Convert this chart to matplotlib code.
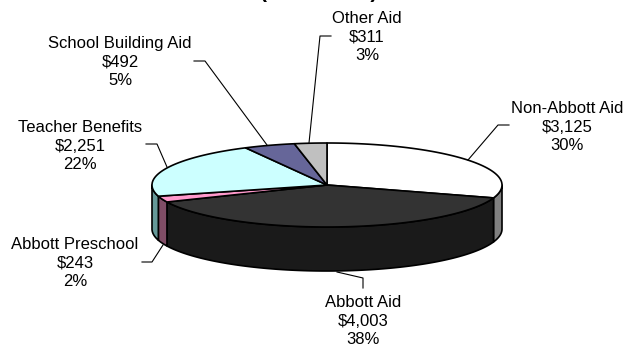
import numpy as np
import matplotlib
matplotlib.use('Agg')
import matplotlib.pyplot as plt
from matplotlib.patches import Polygon

plt.rcParams['font.family'] = ['Liberation Sans', 'DejaVu Sans']

labels = ['Non-Abbott Aid', 'Abbott Aid', 'Abbott Preschool', 'Teacher Benefits', 'School Building Aid', 'Other Aid']
values = [3125, 4003, 243, 2251, 492, 311]
percents = ['30%', '38%', '2%', '22%', '5%', '3%']
top_colors = ['#ffffff', '#333333', '#ff99cc', '#ccffff', '#666699', '#c0c0c0']
side_colors = ['#808080', '#1a1a1a', '#804d66', '#669999', '#333366', '#606060']

cx, cy = 327, 185
rx, ry = 175, 42
depth = 44


def rim(a, b):
    t = np.radians(np.linspace(a, b, max(int(abs(b - a)) * 2, 2)))
    return cx + rx * np.sin(t), cy - ry * np.cos(t)


fig = plt.figure(figsize=(6.39, 3.47), dpi=100)
ax = fig.add_axes([0, 0, 1, 1])
ax.set_xlim(0, 639)
ax.set_ylim(347, 0)
ax.axis('off')

edges = np.concatenate([[0], np.cumsum(values)]) / sum(values) * 360

# side walls, only the front half of the rim shows
for i in range(len(values)):
    a, b = max(edges[i], 90), min(edges[i + 1], 270)
    if a >= b:
        continue
    x, y = rim(a, b)
    pts = np.column_stack([np.r_[x, x[::-1]], np.r_[y, y[::-1] + depth]])
    ax.add_patch(Polygon(pts, fc=side_colors[i], ec='black', lw=1.2, joinstyle='round'))

for i in range(len(values)):
    x, y = rim(edges[i], edges[i + 1])
    pts = np.column_stack([np.r_[cx, x], np.r_[cy, y]])
    ax.add_patch(Polygon(pts, fc=top_colors[i], ec='black', lw=1.2, joinstyle='round'))

# label centres and leader lines
label_pos = [(567, 127), (363, 321), (75, 263), (80, 146), (120, 62), (367, 37)]
leaders = [
    [(509, 125), (498, 125), (468, 160)],
    [(363, 288), (363, 278), (337, 272)],
    [(142, 262), (152, 262), (163, 245)],
    [(146, 144), (157, 144), (167, 167)],
    [(194, 61), (205, 61), (267, 145)],
    [(331, 36), (320, 36), (309, 143)],
]
for i, lab in enumerate(labels):
    text = f'{lab}\n${values[i]:,}\n{percents[i]}'
    ax.text(label_pos[i][0], label_pos[i][1], text, ha='center', va='center', fontsize=12, linespacing=1.32, color='black')
    xs, ys = zip(*leaders[i])
    ax.plot(xs, ys, color='black', lw=0.8)

# title is cut off by the top edge of the image
ax.text(319, -2, '(in millions)', ha='center', va='baseline', fontsize=15, fontweight='bold')

fig.savefig('out.png', dpi=100)
